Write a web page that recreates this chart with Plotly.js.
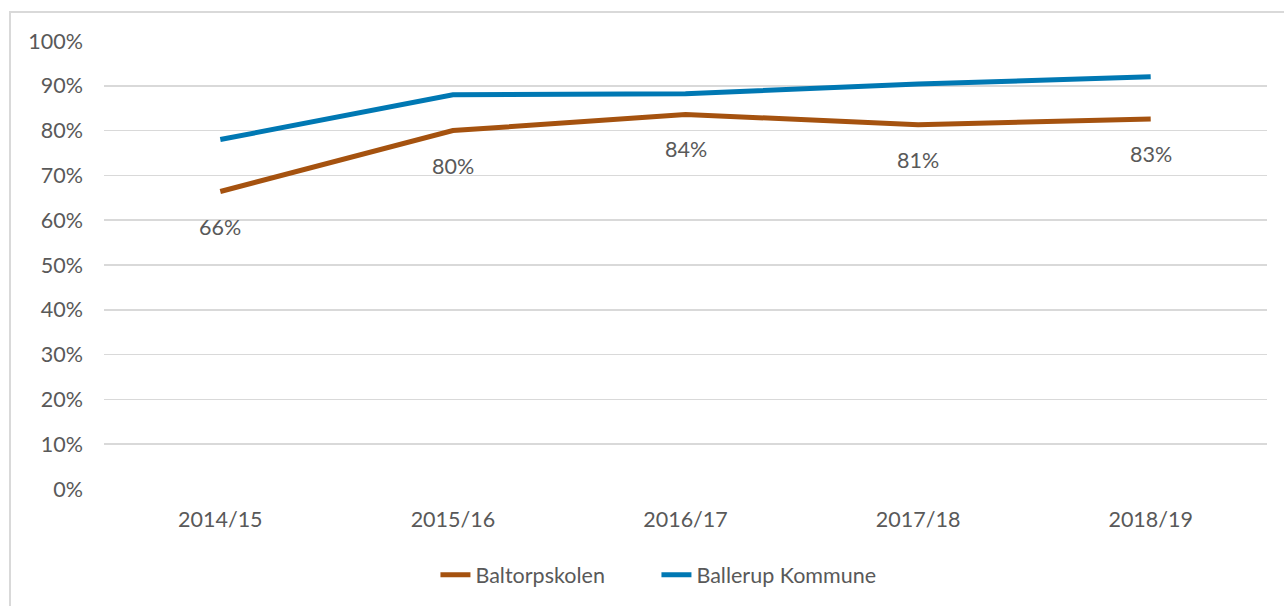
<!DOCTYPE html>
<html>
<head>
<meta charset="utf-8">
<script src="https://cdn.plot.ly/plotly-3.0.1.min.js"></script>
<style>
  html, body { margin: 0; padding: 0; overflow: hidden; background: #ffffff; }
  #wrap { position: relative; width: 1284px; height: 606px; overflow: hidden; }
  #chart { position: absolute; left: 0; top: 0; width: 1284px; height: 606px; }
  #frame { position: absolute; left: 9px; top: 11px; width: 1400px; height: 700px;
           border: 2px solid #d9d9d9; pointer-events: none; }
</style>
</head>
<body>
<div id="wrap">
  <div id="chart"></div>
  <div id="frame"></div>
</div>
<script>
// ---- data ----
const categories = ["2014/15", "2015/16", "2016/17", "2017/18", "2018/19"];
const baltorpskolen = [0.664, 0.80, 0.836, 0.813, 0.826];
const ballerupKommune = [0.78, 0.88, 0.882, 0.904, 0.92];
const seriesNames = ["Baltorpskolen", "Ballerup Kommune"];
const yTickValues = [0, 0.1, 0.2, 0.3, 0.4, 0.5, 0.6, 0.7, 0.8, 0.9, 1.0];

const FONT = "Lato, 'Open Sans', sans-serif";
const TXT = "#595959";
const ORANGE = "#A5520F";
const BLUE = "#0078B3";
const FS = 21.5;

const traces = [
  {
    type: "scatter", mode: "lines", name: seriesNames[0],
    x: categories, y: baltorpskolen,
    line: { color: ORANGE, width: 5 },
    hoverinfo: "skip"
  },
  {
    type: "scatter", mode: "lines", name: seriesNames[1],
    x: categories, y: ballerupKommune,
    line: { color: BLUE, width: 5 },
    hoverinfo: "skip"
  }
];

const annotations = categories.map((c, i) => ({
  x: c, y: baltorpskolen[i], xref: "x", yref: "y",
  text: Math.round(baltorpskolen[i] * 100) + "%",
  showarrow: false, yshift: -35,
  font: { family: FONT, size: FS, color: TXT }
}));

const layout = {
  width: 1284, height: 606,
  margin: { l: 104, r: 17, t: 41, b: 116, pad: 0 },
  paper_bgcolor: "#ffffff", plot_bgcolor: "#ffffff",
  font: { family: FONT, size: FS, color: TXT },
  showlegend: true,
  legend: {
    orientation: "h", x: 0.285, xanchor: "left", y: -0.189, yanchor: "middle",
    entrywidth: 176, entrywidthmode: "pixels",
    font: { family: FONT, size: FS, color: TXT },
    bgcolor: "rgba(0,0,0,0)"
  },
  xaxis: {
    type: "category", range: [-0.5, 4.5],
    showgrid: false, zeroline: false, showline: false, ticks: "",
    ticklabelstandoff: 15,
    tickfont: { family: FONT, size: FS, color: TXT },
    fixedrange: true
  },
  yaxis: {
    range: [0, 1.0], tickvals: yTickValues, tickformat: ".0%",
    showgrid: true, gridcolor: "#d9d9d9", gridwidth: 1.6,
    zeroline: false, showline: false, ticks: "",
    ticklabelstandoff: 20,
    tickfont: { family: FONT, size: FS, color: TXT },
    fixedrange: true
  },
  annotations: annotations
};

Plotly.newPlot("chart", traces, layout, { displayModeBar: false, staticPlot: true });
</script>
</body>
</html>
